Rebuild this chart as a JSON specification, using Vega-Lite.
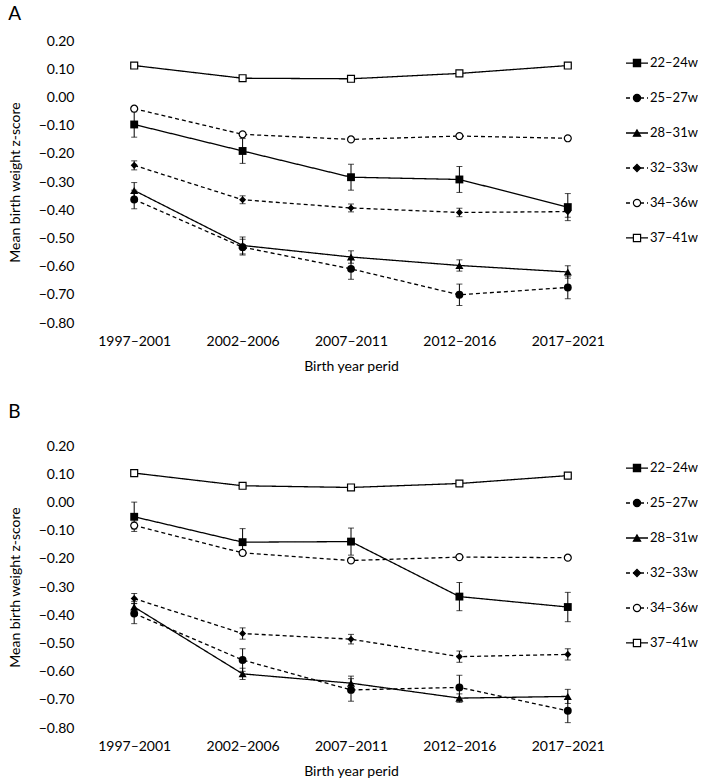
{
  "$schema": "https://vega.github.io/schema/vega-lite/v6.json",
  "padding": {"left": 8, "top": 5, "right": 0, "bottom": 0},
  "background": "white",
  "config": {
    "font": "Lato",
    "view": {"stroke": null},
    "axis": {"domain": false, "ticks": false, "grid": false, "labelColor": "black", "titleColor": "black", "labelFontSize": 14, "titleFontSize": 14, "titleFontWeight": "normal", "labelFont": "Lato", "titleFont": "Lato"},
    "axisX": {"labelAngle": 0, "labelPadding": 11, "titlePadding": 11},
    "axisY": {"labelPadding": 6, "titlePadding": 16}
  },
  "datasets": {
    "L": [
      {"group": "22–24w"}, {"group": "25–27w"}, {"group": "28–31w"}, {"group": "32–33w"}, {"group": "34–36w"}, {"group": "37–41w"}
    ],
    "A": [
      {"group": "22–24w", "period": "1997–2001", "z": -0.096, "lo": -0.141, "hi": -0.051},
      {"group": "22–24w", "period": "2002–2006", "z": -0.190, "lo": -0.234, "hi": -0.146},
      {"group": "22–24w", "period": "2007–2011", "z": -0.283, "lo": -0.329, "hi": -0.237},
      {"group": "22–24w", "period": "2012–2016", "z": -0.291, "lo": -0.337, "hi": -0.245},
      {"group": "22–24w", "period": "2017–2021", "z": -0.389, "lo": -0.437, "hi": -0.341},
      {"group": "25–27w", "period": "1997–2001", "z": -0.362, "lo": -0.395, "hi": -0.329},
      {"group": "25–27w", "period": "2002–2006", "z": -0.531, "lo": -0.559, "hi": -0.503},
      {"group": "25–27w", "period": "2007–2011", "z": -0.608, "lo": -0.645, "hi": -0.571},
      {"group": "25–27w", "period": "2012–2016", "z": -0.700, "lo": -0.738, "hi": -0.662},
      {"group": "25–27w", "period": "2017–2021", "z": -0.674, "lo": -0.714, "hi": -0.634},
      {"group": "28–31w", "period": "1997–2001", "z": -0.330, "lo": -0.358, "hi": -0.302},
      {"group": "28–31w", "period": "2002–2006", "z": -0.525, "lo": -0.555, "hi": -0.495},
      {"group": "28–31w", "period": "2007–2011", "z": -0.566, "lo": -0.588, "hi": -0.544},
      {"group": "28–31w", "period": "2012–2016", "z": -0.596, "lo": -0.616, "hi": -0.576},
      {"group": "28–31w", "period": "2017–2021", "z": -0.619, "lo": -0.641, "hi": -0.597},
      {"group": "32–33w", "period": "1997–2001", "z": -0.241, "lo": -0.257, "hi": -0.225},
      {"group": "32–33w", "period": "2002–2006", "z": -0.363, "lo": -0.377, "hi": -0.349},
      {"group": "32–33w", "period": "2007–2011", "z": -0.392, "lo": -0.406, "hi": -0.378},
      {"group": "32–33w", "period": "2012–2016", "z": -0.408, "lo": -0.423, "hi": -0.393},
      {"group": "32–33w", "period": "2017–2021", "z": -0.405, "lo": -0.425, "hi": -0.385},
      {"group": "34–36w", "period": "1997–2001", "z": -0.040, "lo": -0.044, "hi": -0.036},
      {"group": "34–36w", "period": "2002–2006", "z": -0.131, "lo": -0.135, "hi": -0.127},
      {"group": "34–36w", "period": "2007–2011", "z": -0.149, "lo": -0.153, "hi": -0.145},
      {"group": "34–36w", "period": "2012–2016", "z": -0.137, "lo": -0.141, "hi": -0.133},
      {"group": "34–36w", "period": "2017–2021", "z": -0.145, "lo": -0.149, "hi": -0.141},
      {"group": "37–41w", "period": "1997–2001", "z": 0.113, "lo": 0.110, "hi": 0.116},
      {"group": "37–41w", "period": "2002–2006", "z": 0.068, "lo": 0.065, "hi": 0.071},
      {"group": "37–41w", "period": "2007–2011", "z": 0.066, "lo": 0.063, "hi": 0.069},
      {"group": "37–41w", "period": "2012–2016", "z": 0.085, "lo": 0.082, "hi": 0.088},
      {"group": "37–41w", "period": "2017–2021", "z": 0.113, "lo": 0.110, "hi": 0.116}
    ],
    "B": [
      {"group": "22–24w", "period": "1997–2001", "z": -0.051, "lo": -0.103, "hi": 0.001},
      {"group": "22–24w", "period": "2002–2006", "z": -0.141, "lo": -0.189, "hi": -0.093},
      {"group": "22–24w", "period": "2007–2011", "z": -0.139, "lo": -0.187, "hi": -0.091},
      {"group": "22–24w", "period": "2012–2016", "z": -0.334, "lo": -0.384, "hi": -0.284},
      {"group": "22–24w", "period": "2017–2021", "z": -0.371, "lo": -0.423, "hi": -0.319},
      {"group": "25–27w", "period": "1997–2001", "z": -0.394, "lo": -0.430, "hi": -0.358},
      {"group": "25–27w", "period": "2002–2006", "z": -0.559, "lo": -0.599, "hi": -0.519},
      {"group": "25–27w", "period": "2007–2011", "z": -0.665, "lo": -0.705, "hi": -0.625},
      {"group": "25–27w", "period": "2012–2016", "z": -0.656, "lo": -0.699, "hi": -0.613},
      {"group": "25–27w", "period": "2017–2021", "z": -0.739, "lo": -0.781, "hi": -0.697},
      {"group": "28–31w", "period": "1997–2001", "z": -0.371, "lo": -0.391, "hi": -0.351},
      {"group": "28–31w", "period": "2002–2006", "z": -0.608, "lo": -0.628, "hi": -0.588},
      {"group": "28–31w", "period": "2007–2011", "z": -0.641, "lo": -0.666, "hi": -0.616},
      {"group": "28–31w", "period": "2012–2016", "z": -0.694, "lo": -0.709, "hi": -0.679},
      {"group": "28–31w", "period": "2017–2021", "z": -0.688, "lo": -0.713, "hi": -0.663},
      {"group": "32–33w", "period": "1997–2001", "z": -0.341, "lo": -0.359, "hi": -0.323},
      {"group": "32–33w", "period": "2002–2006", "z": -0.465, "lo": -0.485, "hi": -0.445},
      {"group": "32–33w", "period": "2007–2011", "z": -0.485, "lo": -0.502, "hi": -0.468},
      {"group": "32–33w", "period": "2012–2016", "z": -0.547, "lo": -0.567, "hi": -0.527},
      {"group": "32–33w", "period": "2017–2021", "z": -0.539, "lo": -0.559, "hi": -0.519},
      {"group": "34–36w", "period": "1997–2001", "z": -0.082, "lo": -0.094, "hi": -0.070},
      {"group": "34–36w", "period": "2002–2006", "z": -0.179, "lo": -0.187, "hi": -0.171},
      {"group": "34–36w", "period": "2007–2011", "z": -0.206, "lo": -0.214, "hi": -0.198},
      {"group": "34–36w", "period": "2012–2016", "z": -0.194, "lo": -0.200, "hi": -0.188},
      {"group": "34–36w", "period": "2017–2021", "z": -0.196, "lo": -0.202, "hi": -0.190},
      {"group": "37–41w", "period": "1997–2001", "z": 0.104, "lo": 0.101, "hi": 0.107},
      {"group": "37–41w", "period": "2002–2006", "z": 0.059, "lo": 0.056, "hi": 0.062},
      {"group": "37–41w", "period": "2007–2011", "z": 0.053, "lo": 0.050, "hi": 0.056},
      {"group": "37–41w", "period": "2012–2016", "z": 0.067, "lo": 0.064, "hi": 0.070},
      {"group": "37–41w", "period": "2017–2021", "z": 0.095, "lo": 0.092, "hi": 0.098}
    ]
  },
  "spacing": 30,
  "vconcat": [
    {
      "title": {"text": "A", "anchor": "start", "frame": "bounds", "fontSize": 19, "fontWeight": "normal", "font": "Lato", "color": "black", "offset": 10},
      "spacing": 4,
      "bounds": "flush",
      "hconcat": [
        {
          "data": {"name": "A"},
          "width": 542,
          "height": 282,
          "encoding": {
            "x": {"field": "period", "type": "ordinal", "title": "Birth year perid", "scale": {"type": "point", "padding": 0.5, "domain": ["1997–2001", "2002–2006", "2007–2011", "2012–2016", "2017–2021"]}},
            "y": {"field": "z", "type": "quantitative", "title": "Mean birth weight z-score", "scale": {"domain": [-0.8, 0.2], "nice": false, "zero": false}, "axis": {"values": [0.2, 0.1, 0, -0.1, -0.2, -0.3, -0.4, -0.5, -0.6, -0.7, -0.8], "format": ".2f"}}
          },
          "layer": [
            {"mark": {"type": "rule", "color": "black", "strokeWidth": 1}, "encoding": {"y": {"field": "lo", "type": "quantitative", "title": "Mean birth weight z-score", "axis": {"values": [0.2, 0.1, 0, -0.1, -0.2, -0.3, -0.4, -0.5, -0.6, -0.7, -0.8], "format": ".2f"}}, "y2": {"field": "hi"}}},
            {"mark": {"type": "tick", "color": "black", "size": 6, "thickness": 1}, "encoding": {"y": {"field": "lo", "type": "quantitative", "title": "Mean birth weight z-score", "axis": {"values": [0.2, 0.1, 0, -0.1, -0.2, -0.3, -0.4, -0.5, -0.6, -0.7, -0.8], "format": ".2f"}}}},
            {"mark": {"type": "tick", "color": "black", "size": 6, "thickness": 1}, "encoding": {"y": {"field": "hi", "type": "quantitative", "title": "Mean birth weight z-score", "axis": {"values": [0.2, 0.1, 0, -0.1, -0.2, -0.3, -0.4, -0.5, -0.6, -0.7, -0.8], "format": ".2f"}}}},
            {"mark": {"type": "line", "color": "black", "strokeWidth": 1.3},
             "encoding": {
               "detail": {"field": "group", "type": "nominal"},
               "strokeDash": {"field": "group", "type": "nominal", "scale": {"domain": ["22–24w", "25–27w", "28–31w", "32–33w", "34–36w", "37–41w"], "range": [[1, 0], [4, 3], [1, 0], [4, 3], [4, 3], [1, 0]]}, "legend": null}
             }},
            {"transform": [{"filter": {"field": "group", "equal": "22–24w"}}], "mark": {"type": "point", "shape": "square", "filled": true, "color": "black", "size": 62, "opacity": 1}},
            {"transform": [{"filter": {"field": "group", "equal": "25–27w"}}], "mark": {"type": "point", "shape": "circle", "filled": true, "color": "black", "size": 62, "opacity": 1}},
            {"transform": [{"filter": {"field": "group", "equal": "28–31w"}}], "mark": {"type": "point", "shape": "triangle-up", "filled": true, "color": "black", "size": 66, "opacity": 1}},
            {"transform": [{"filter": {"field": "group", "equal": "32–33w"}}], "mark": {"type": "point", "shape": "diamond", "filled": true, "color": "black", "size": 50, "opacity": 1}},
            {"transform": [{"filter": {"field": "group", "equal": "34–36w"}}], "mark": {"type": "point", "shape": "circle", "fill": "white", "stroke": "black", "strokeWidth": 1.2, "size": 48, "opacity": 1}},
            {"transform": [{"filter": {"field": "group", "equal": "37–41w"}}], "mark": {"type": "point", "shape": "square", "fill": "white", "stroke": "black", "strokeWidth": 1.2, "size": 48, "opacity": 1}},
            {"data": {"values": [{}]}, "mark": {"type": "rule", "color": "black", "strokeWidth": 1.2}, "encoding": {"x": null, "y": {"datum": 0, "type": "quantitative", "title": "Mean birth weight z-score", "axis": {"values": [0.2, 0.1, 0, -0.1, -0.2, -0.3, -0.4, -0.5, -0.6, -0.7, -0.8], "format": ".2f"}}}}
          ]
        },
        {
          "data": {"name": "L"},
          "width": 22,
          "height": 219,
          "encoding": {"y": {"field": "group", "type": "nominal", "scale": {"type": "point", "padding": 0.63, "domain": ["22–24w", "25–27w", "28–31w", "32–33w", "34–36w", "37–41w"]}, "axis": null}},
          "layer": [
            {"mark": {"type": "rule", "color": "black", "strokeWidth": 1.3},
             "encoding": {
               "x": {"datum": 0, "type": "quantitative", "scale": {"domain": [0, 1]}, "axis": null},
               "x2": {"datum": 1},
               "strokeDash": {"field": "group", "type": "nominal", "scale": {"domain": ["22–24w", "25–27w", "28–31w", "32–33w", "34–36w", "37–41w"], "range": [[1, 0], [4, 3], [1, 0], [4, 3], [4, 3], [1, 0]]}, "legend": null}
             }},
            {"mark": {"type": "point", "stroke": "black", "strokeWidth": 1.2, "size": 52, "opacity": 1},
             "encoding": {
               "x": {"datum": 0.5, "type": "quantitative", "axis": null},
               "shape": {"field": "group", "type": "nominal", "scale": {"domain": ["22–24w", "25–27w", "28–31w", "32–33w", "34–36w", "37–41w"], "range": ["square", "circle", "triangle-up", "diamond", "circle", "square"]}, "legend": null},
               "fill": {"field": "group", "type": "nominal", "scale": {"domain": ["22–24w", "25–27w", "28–31w", "32–33w", "34–36w", "37–41w"], "range": ["black", "black", "black", "black", "white", "white"]}, "legend": null}
             }},
            {"mark": {"type": "text", "align": "left", "baseline": "middle", "dx": 2, "fontSize": 13, "color": "black"},
             "encoding": {
               "x": {"datum": 1, "type": "quantitative", "axis": null},
               "text": {"field": "group", "type": "nominal"}
             }}
          ]
        }
      ]
    },
    {
      "title": {"text": "B", "anchor": "start", "frame": "bounds", "fontSize": 19, "fontWeight": "normal", "font": "Lato", "color": "black", "offset": 17},
      "spacing": 4,
      "bounds": "flush",
      "hconcat": [
        {
          "data": {"name": "B"},
          "width": 542,
          "height": 282,
          "encoding": {
            "x": {"field": "period", "type": "ordinal", "title": "Birth year perid", "scale": {"type": "point", "padding": 0.5, "domain": ["1997–2001", "2002–2006", "2007–2011", "2012–2016", "2017–2021"]}},
            "y": {"field": "z", "type": "quantitative", "title": "Mean birth weight z-score", "scale": {"domain": [-0.8, 0.2], "nice": false, "zero": false}, "axis": {"values": [0.2, 0.1, 0, -0.1, -0.2, -0.3, -0.4, -0.5, -0.6, -0.7, -0.8], "format": ".2f"}}
          },
          "layer": [
            {"mark": {"type": "rule", "color": "black", "strokeWidth": 1}, "encoding": {"y": {"field": "lo", "type": "quantitative", "title": "Mean birth weight z-score", "axis": {"values": [0.2, 0.1, 0, -0.1, -0.2, -0.3, -0.4, -0.5, -0.6, -0.7, -0.8], "format": ".2f"}}, "y2": {"field": "hi"}}},
            {"mark": {"type": "tick", "color": "black", "size": 6, "thickness": 1}, "encoding": {"y": {"field": "lo", "type": "quantitative", "title": "Mean birth weight z-score", "axis": {"values": [0.2, 0.1, 0, -0.1, -0.2, -0.3, -0.4, -0.5, -0.6, -0.7, -0.8], "format": ".2f"}}}},
            {"mark": {"type": "tick", "color": "black", "size": 6, "thickness": 1}, "encoding": {"y": {"field": "hi", "type": "quantitative", "title": "Mean birth weight z-score", "axis": {"values": [0.2, 0.1, 0, -0.1, -0.2, -0.3, -0.4, -0.5, -0.6, -0.7, -0.8], "format": ".2f"}}}},
            {"mark": {"type": "line", "color": "black", "strokeWidth": 1.3},
             "encoding": {
               "detail": {"field": "group", "type": "nominal"},
               "strokeDash": {"field": "group", "type": "nominal", "scale": {"domain": ["22–24w", "25–27w", "28–31w", "32–33w", "34–36w", "37–41w"], "range": [[1, 0], [4, 3], [1, 0], [4, 3], [4, 3], [1, 0]]}, "legend": null}
             }},
            {"transform": [{"filter": {"field": "group", "equal": "22–24w"}}], "mark": {"type": "point", "shape": "square", "filled": true, "color": "black", "size": 62, "opacity": 1}},
            {"transform": [{"filter": {"field": "group", "equal": "25–27w"}}], "mark": {"type": "point", "shape": "circle", "filled": true, "color": "black", "size": 62, "opacity": 1}},
            {"transform": [{"filter": {"field": "group", "equal": "28–31w"}}], "mark": {"type": "point", "shape": "triangle-up", "filled": true, "color": "black", "size": 66, "opacity": 1}},
            {"transform": [{"filter": {"field": "group", "equal": "32–33w"}}], "mark": {"type": "point", "shape": "diamond", "filled": true, "color": "black", "size": 50, "opacity": 1}},
            {"transform": [{"filter": {"field": "group", "equal": "34–36w"}}], "mark": {"type": "point", "shape": "circle", "fill": "white", "stroke": "black", "strokeWidth": 1.2, "size": 48, "opacity": 1}},
            {"transform": [{"filter": {"field": "group", "equal": "37–41w"}}], "mark": {"type": "point", "shape": "square", "fill": "white", "stroke": "black", "strokeWidth": 1.2, "size": 48, "opacity": 1}},
            {"data": {"values": [{}]}, "mark": {"type": "rule", "color": "black", "strokeWidth": 1.2}, "encoding": {"x": null, "y": {"datum": 0, "type": "quantitative", "title": "Mean birth weight z-score", "axis": {"values": [0.2, 0.1, 0, -0.1, -0.2, -0.3, -0.4, -0.5, -0.6, -0.7, -0.8], "format": ".2f"}}}}
          ]
        },
        {
          "data": {"name": "L"},
          "width": 22,
          "height": 219,
          "encoding": {"y": {"field": "group", "type": "nominal", "scale": {"type": "point", "padding": 0.63, "domain": ["22–24w", "25–27w", "28–31w", "32–33w", "34–36w", "37–41w"]}, "axis": null}},
          "layer": [
            {"mark": {"type": "rule", "color": "black", "strokeWidth": 1.3},
             "encoding": {
               "x": {"datum": 0, "type": "quantitative", "scale": {"domain": [0, 1]}, "axis": null},
               "x2": {"datum": 1},
               "strokeDash": {"field": "group", "type": "nominal", "scale": {"domain": ["22–24w", "25–27w", "28–31w", "32–33w", "34–36w", "37–41w"], "range": [[1, 0], [4, 3], [1, 0], [4, 3], [4, 3], [1, 0]]}, "legend": null}
             }},
            {"mark": {"type": "point", "stroke": "black", "strokeWidth": 1.2, "size": 52, "opacity": 1},
             "encoding": {
               "x": {"datum": 0.5, "type": "quantitative", "axis": null},
               "shape": {"field": "group", "type": "nominal", "scale": {"domain": ["22–24w", "25–27w", "28–31w", "32–33w", "34–36w", "37–41w"], "range": ["square", "circle", "triangle-up", "diamond", "circle", "square"]}, "legend": null},
               "fill": {"field": "group", "type": "nominal", "scale": {"domain": ["22–24w", "25–27w", "28–31w", "32–33w", "34–36w", "37–41w"], "range": ["black", "black", "black", "black", "white", "white"]}, "legend": null}
             }},
            {"mark": {"type": "text", "align": "left", "baseline": "middle", "dx": 2, "fontSize": 13, "color": "black"},
             "encoding": {
               "x": {"datum": 1, "type": "quantitative", "axis": null},
               "text": {"field": "group", "type": "nominal"}
             }}
          ]
        }
      ]
    }
  ]
}
